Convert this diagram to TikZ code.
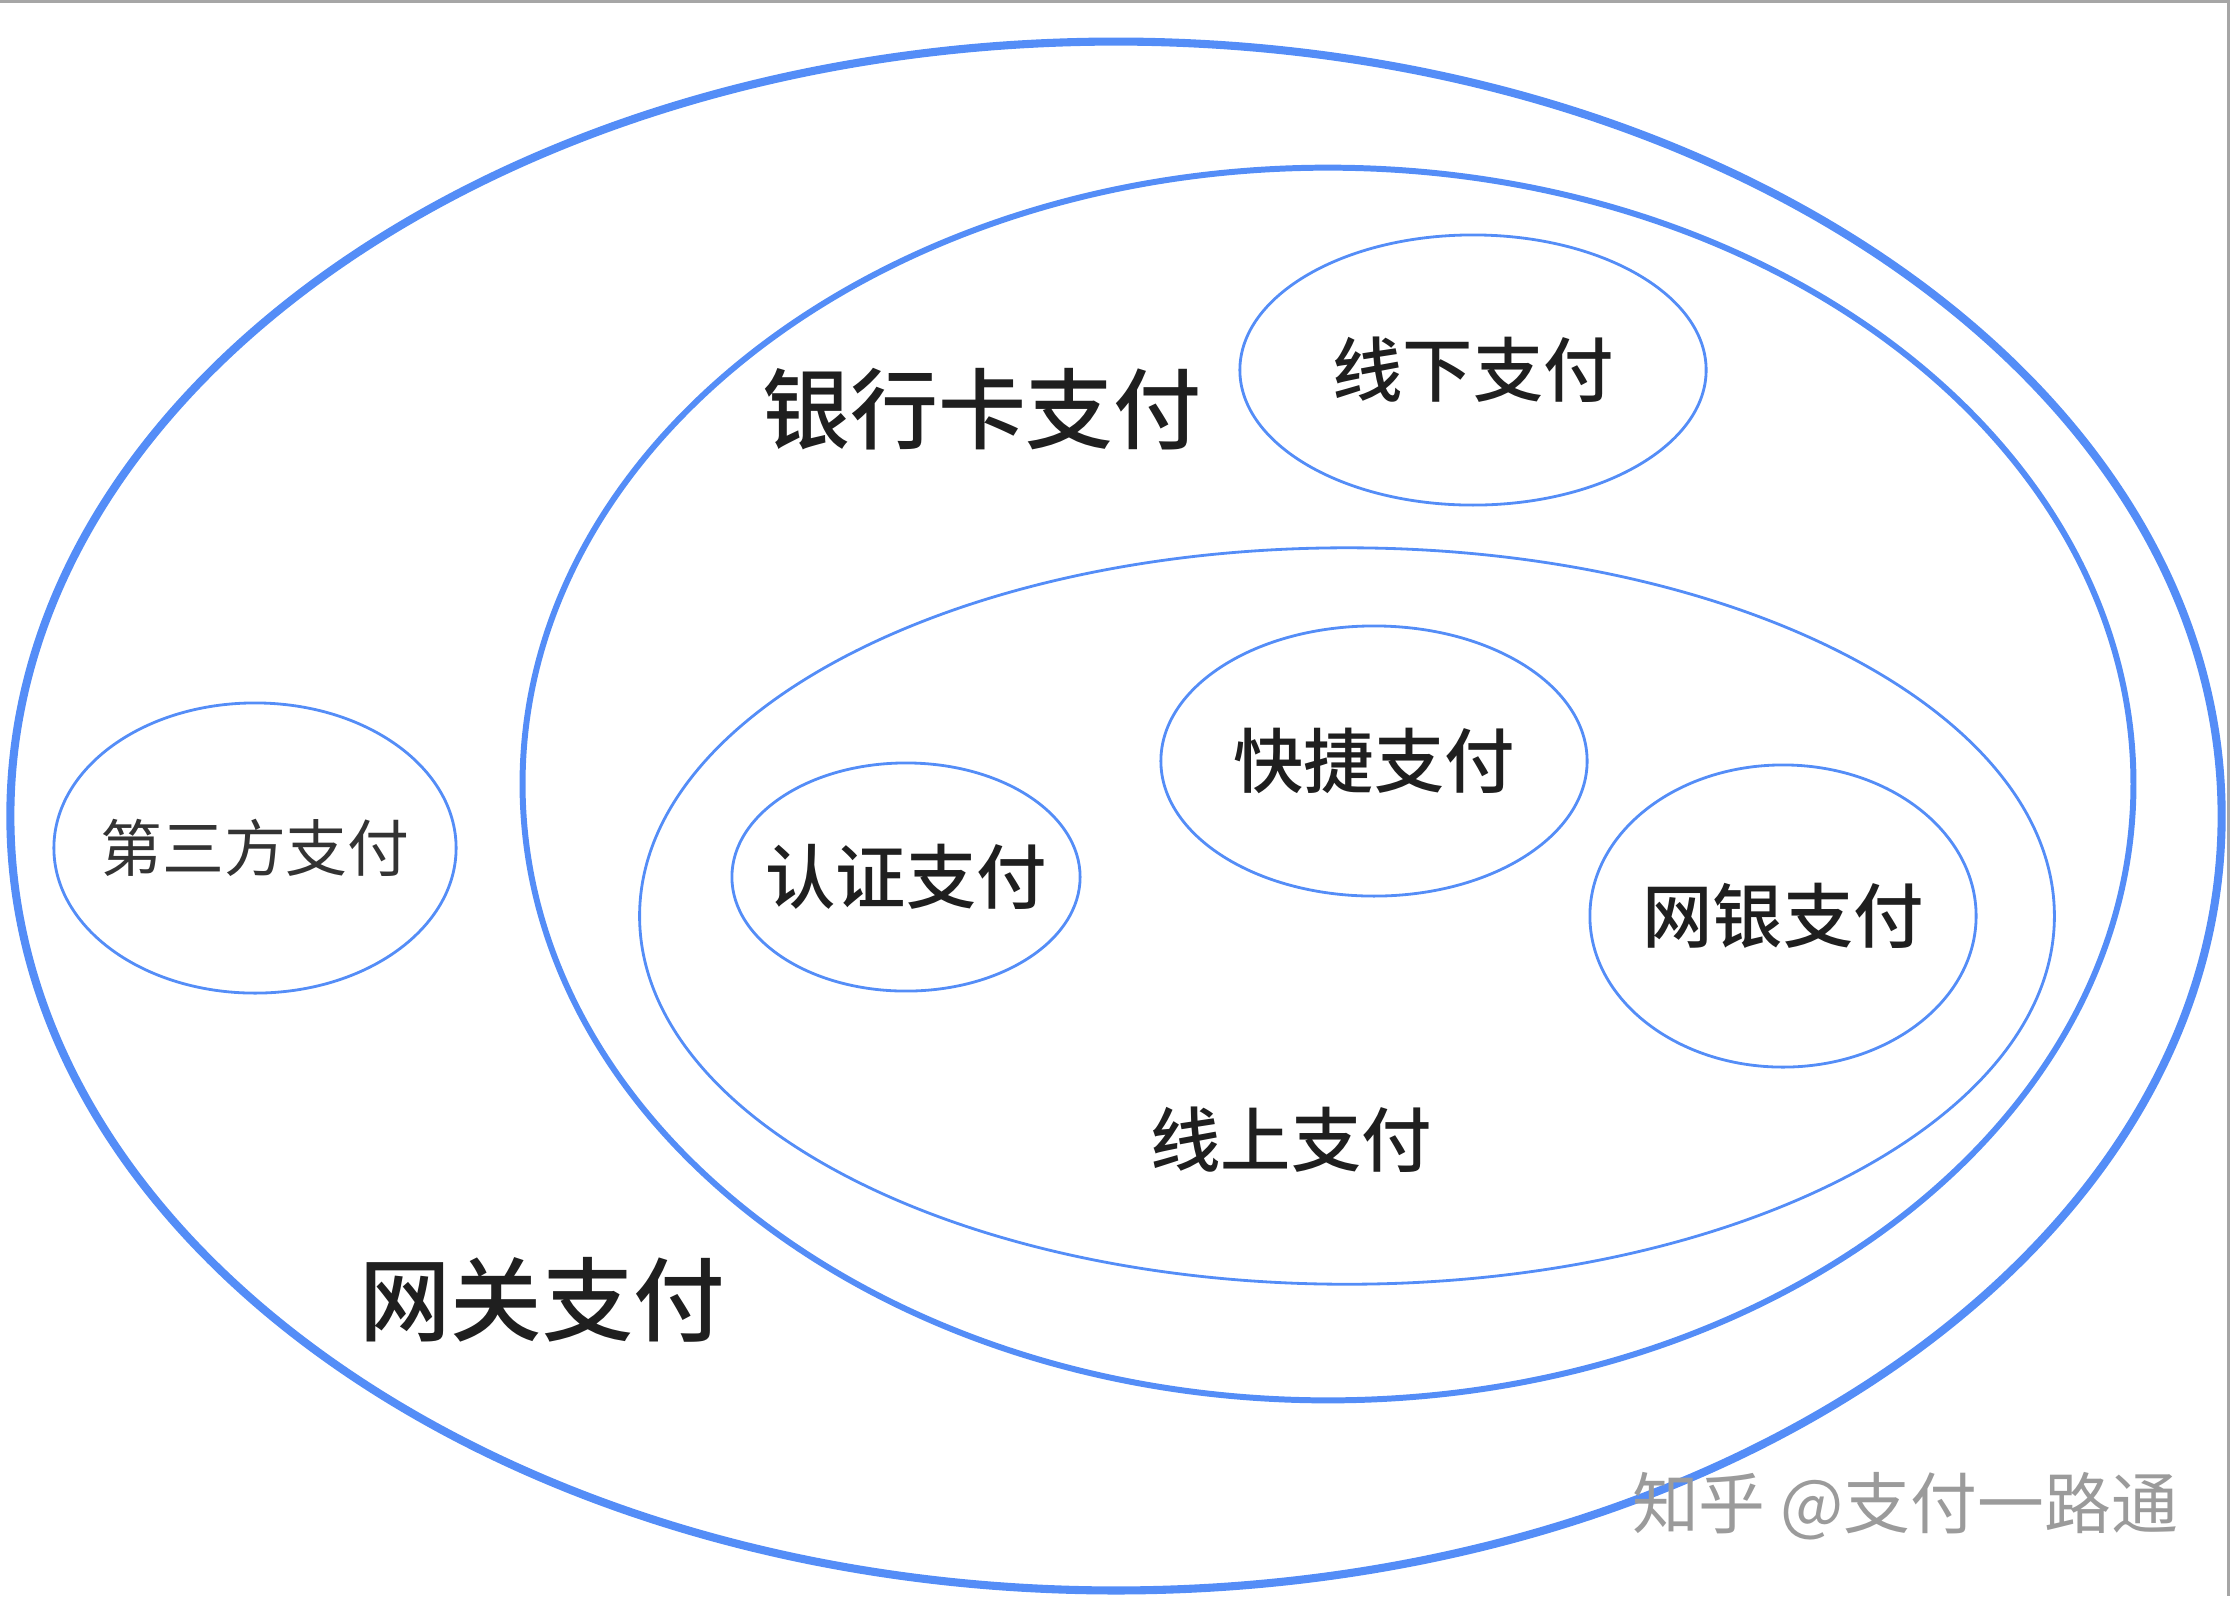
\documentclass[tikz,border=0pt]{standalone}
\usepackage{fontspec}
\setmainfont{Noto Sans CJK SC}[BoldFont={Noto Sans CJK SC Medium}]
\usetikzlibrary{shapes.geometric}
\definecolor{setblue}{RGB}{84,141,247}
\definecolor{markgray}{RGB}{155,155,155}
\tikzset{
  payset/.style={ellipse, draw=setblue, inner sep=0pt},
  smallset/.style={payset, line width=0.8pt},
  settext/.style={font=\bfseries\fontsize{20}{24}\selectfont, text=black!88},
  biglabel/.style={font=\bfseries\fontsize{25}{30}\selectfont, text=black!88},
}

\begin{document}
\begin{tikzpicture}[x=0.01cm,y=-0.01cm]
\useasboundingbox (0,0) rectangle (2230,1596);
\draw[gray!70,line width=1pt] (0,1.5) -- (2228.5,1.5) -- (2228.5,1596);
\node[payset, line width=2.3pt, minimum width=22.10cm, minimum height=15.48cm] (gateway) at (1116,816) {};
\node[payset, line width=1.7pt, minimum width=16.10cm, minimum height=12.32cm] (bankcard) at (1328,784) {};
\node[payset, line width=0.8pt, minimum width=14.14cm, minimum height=7.36cm] (online) at (1347,916) {};
\node[smallset, minimum width=4.66cm, minimum height=2.70cm, label={[settext]center:线下支付}] (offline) at (1473,370) {};
\node[smallset, minimum width=4.02cm, minimum height=2.90cm, label={[font=\fontsize{17.6}{21}\selectfont, text=black!80]center:第三方支付}] (thirdparty) at (255,848) {};
\node[smallset, minimum width=3.48cm, minimum height=2.28cm, label={[settext]center:认证支付}] (verified) at (906,877) {};
\node[smallset, minimum width=4.26cm, minimum height=2.70cm, label={[settext]center:快捷支付}] (quick) at (1374,761) {};
\node[smallset, minimum width=3.86cm, minimum height=3.02cm, label={[settext]center:网银支付}] (netbank) at (1783,916) {};
\node[biglabel] (bankcardlabel) at (982,409) {银行卡支付};
\node[biglabel, font=\bfseries\fontsize{26}{31}\selectfont] (gatewaylabel) at (542,1300) {网关支付};
\node[settext] (onlinelabel) at (1291,1140) {线上支付};
\node[font=\fontsize{19}{23}\selectfont, text=markgray] (watermark) at (1905,1506) {知乎 @支付一路通};
\end{tikzpicture}
\end{document}
